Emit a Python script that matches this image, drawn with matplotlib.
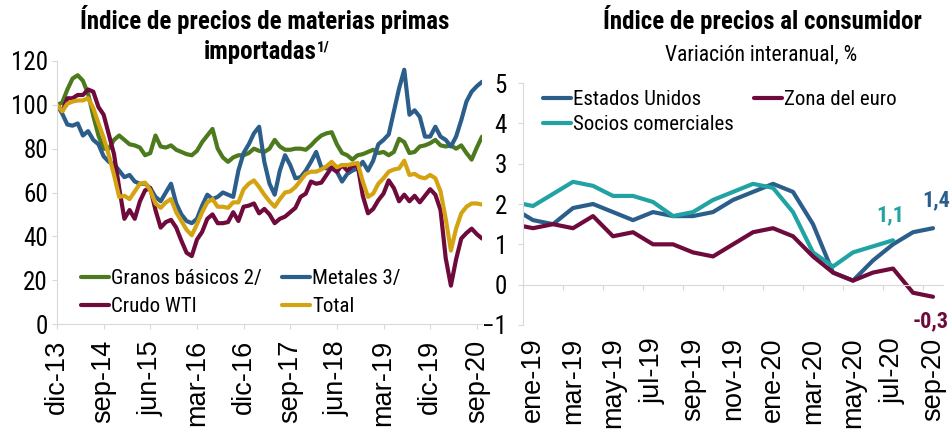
import numpy as np
import matplotlib
matplotlib.use("Agg")
import matplotlib.pyplot as plt

# ======================================================
# Data
# ======================================================

# Left panel: monthly index, dic-13 = 100 (dic-13 ... oct-20)
granos = [100, 101, 107, 112, 113.5, 111, 105, 95, 86, 80,
          80, 84, 86, 84, 82, 81.5, 80.5, 77, 78, 86,
          81, 80.5, 81.5, 79.5, 78.5, 77.5, 77, 79, 83, 86,
          89, 80, 76, 74, 76, 77, 77, 78, 80, 79,
          78.5, 80, 84, 81, 79.5, 79.5, 80, 80, 79.5, 81.5,
          84, 86, 87, 87.5, 82, 78, 77, 75, 77, 77.5,
          78.5, 79.5, 78, 78.5, 77, 78.5, 84.5, 83, 78, 78.5,
          81, 81.5, 82.5, 84, 81.5, 81, 81.5, 80, 81.5, 78,
          75, 80.5, 85.5]

metales = [100, 96, 91, 90.5, 91.5, 86, 88, 84, 82, 76.5,
           74, 73, 70, 67, 68, 65, 64, 64, 62, 58,
           56, 60, 64, 55, 50, 47, 46, 48, 54, 59,
           57, 58, 60, 59, 58, 70, 78, 82, 87, 90,
           74, 64, 59, 70, 77, 72.5, 66.5, 67, 70, 74,
           78.5, 71.5, 71, 71, 69.5, 65, 68.5, 70, 71, 74,
           70, 74.5, 82, 84, 86.5, 97, 107.5, 116, 95.5, 97.5,
           94.5, 85.5, 85.5, 90, 85.5, 84, 81, 85.5, 93, 101.5,
           106, 108.5, 110.5]

crudo = [100, 97, 103, 103, 104.5, 104.5, 107, 106, 99, 95.5,
         86.5, 77.5, 62, 48, 52, 48, 56, 61, 62, 52,
         44, 46.5, 47.5, 44, 38, 32.5, 31, 38.5, 42, 48,
         50, 46, 46, 46.5, 51, 47, 53.5, 54, 55, 50.5,
         52.5, 50, 46, 48, 49, 51, 53, 58, 59.5, 65,
         64, 64.5, 68, 71.5, 69.5, 72.5, 70, 72, 72.5, 58.5,
         50.5, 52.5, 56.5, 59.5, 65.5, 62, 56, 59, 56, 58.5,
         55.5, 58.5, 61.5, 59, 52, 30, 17.5, 29.5, 39, 41.5,
         43.5, 41, 39]

total = [100, 97, 100.5, 101.5, 102, 102, 103, 98.5, 91.5, 85,
         77, 68, 58, 58.5, 57, 60.5, 64, 64.5, 61, 55,
         53, 55.5, 57, 51, 47, 43, 40.5, 45.5, 51, 55.5,
         57, 53.5, 53.5, 53, 55.5, 55.5, 61.5, 64, 65.5, 62.5,
         59, 56, 53.5, 57, 60, 60.5, 62.5, 65.5, 68.5, 69.5,
         69.5, 70.5, 72, 74, 71.5, 72.5, 72.5, 73, 73.5, 65,
         58, 59.5, 64, 66.5, 69.5, 70.5, 71, 74.5, 68, 68.5,
         67, 66.5, 68, 66.5, 60.5, 48, 33.5, 43.5, 50.5, 53.5,
         55, 55, 54.5]

left_tick_labels = ["dic-13", "sep-14", "jun-15", "mar-16", "dic-16",
                    "sep-17", "jun-18", "mar-19", "dic-19", "sep-20"]

# Right panel: CPI y/y %, dic-18 ... sep-20
cpi_months = ["dic-18", "ene-19", "feb-19", "mar-19", "abr-19", "may-19",
              "jun-19", "jul-19", "ago-19", "sep-19", "oct-19", "nov-19",
              "dic-19", "ene-20", "feb-20", "mar-20", "abr-20", "may-20",
              "jun-20", "jul-20", "ago-20", "sep-20"]
eeuu = [1.9, 1.6, 1.5, 1.9, 2.0, 1.8, 1.6, 1.8, 1.7, 1.7, 1.8,
        2.1, 2.3, 2.5, 2.3, 1.5, 0.3, 0.1, 0.6, 1.0, 1.3, 1.4]
socios = [2.05, 1.95, 2.25, 2.55, 2.45, 2.2, 2.2, 2.05, 1.7, 1.8,
          2.1, 2.3, 2.5, 2.4, 1.8, 0.8, 0.45, 0.8, 0.95, 1.1]
euro = [1.5, 1.4, 1.5, 1.4, 1.7, 1.2, 1.3, 1.0, 1.0, 0.8, 0.7,
        1.0, 1.3, 1.4, 1.2, 0.7, 0.3, 0.1, 0.3, 0.4, -0.2, -0.3]

# ======================================================
# Style
# ======================================================

NARROW = ['Roboto Condensed', 'DejaVu Sans']
REGULAR = ['Liberation Sans', 'DejaVu Sans']

GREEN = '#4E7A1E'
BLUE = '#2B5E8B'
MAROON = '#6E0A3C'
GOLD = '#D4A312'
TEAL = '#22A3A3'
GRAY = '#D9D9D9'

W, H = 950, 434

def fx(px):
    return px / W

def fy(py):
    return 1 - py / H

line_kw = dict(lw=3, solid_joinstyle='round', solid_capstyle='round')

TICK_FS = 18
XLAB_FS = 19.5
LEG_FS = 15

fig = plt.figure(figsize=(9.5, 4.34), dpi=100)

# ======================================================
# Left panel
# ======================================================

ax1 = fig.add_axes([fx(57), fy(324), fx(425), 263 / H])

x1 = np.arange(len(total))

l_gr, = ax1.plot(x1, granos, color=GREEN, label='Granos básicos 2/', **line_kw)
l_me, = ax1.plot(x1, metales, color=BLUE, label='Metales 3/', **line_kw)
l_cr, = ax1.plot(x1, crudo, color=MAROON, label='Crudo WTI', **line_kw)
l_to, = ax1.plot(x1, total, color=GOLD, label='Total', **line_kw)

ax1.set_xlim(0, len(total) - 1)
ax1.set_ylim(0, 120)
ax1.set_yticks(range(0, 121, 20))
ax1.set_xticks(np.arange(0, len(total), 9))
ax1.set_xticklabels(left_tick_labels, rotation=90, family=REGULAR, fontsize=XLAB_FS)
for t in ax1.get_yticklabels():
    t.set_family(NARROW)
    t.set_fontsize(TICK_FS)

for s in ['top', 'right']:
    ax1.spines[s].set_visible(False)
for s in ['left', 'bottom']:
    ax1.spines[s].set_color(GRAY)

ax1.tick_params(axis='y', length=3.6, color=GRAY, pad=3)
ax1.tick_params(axis='x', length=3.6, color=GRAY, pad=8)

ax1.legend(handles=[l_gr, l_cr, l_me, l_to], ncol=2, frameon=False,
           loc='upper left', bbox_to_anchor=(fx(81), fy(269)),
           bbox_transform=fig.transFigure, borderpad=0, borderaxespad=0,
           handlelength=1.35, handletextpad=0.1, columnspacing=0.95,
           labelspacing=0.45, prop={'family': NARROW, 'size': LEG_FS})

fig.text(fx(265), fy(20), 'Índice de precios de materias primas',
         ha='center', va='center', fontsize=18, fontweight='bold', family=NARROW)
t2 = fig.text(fx(260), fy(52), 'importadas', ha='center', va='center',
              fontsize=18, fontweight='bold', family=NARROW)
plt.annotate('1/', xy=(1.0, 0.97), xycoords=t2, ha='left', va='top',
             fontsize=11, fontweight='bold', family=NARROW)

# ======================================================
# Right panel
# ======================================================

ax2 = fig.add_axes([fx(523), fy(325), fx(420), 242 / H])

x2 = np.arange(len(cpi_months))

l_us, = ax2.plot(x2, eeuu, color=BLUE, label='Estados Unidos', **line_kw)
l_so, = ax2.plot(x2[:len(socios)], socios, color=TEAL,
                 label='Socios comerciales', **line_kw)
l_eu, = ax2.plot(x2, euro, color=MAROON, label='Zona del euro', **line_kw)

ax2.set_xlim(0.5, len(cpi_months) - 0.5)
ax2.set_ylim(-1, 5)
ax2.set_yticks(range(-1, 6))
for t in ax2.get_yticklabels():
    t.set_family(NARROW)
    t.set_fontsize(TICK_FS)

for s in ['top', 'right']:
    ax2.spines[s].set_visible(False)
ax2.spines['left'].set_color(GRAY)
ax2.spines['bottom'].set_color(GRAY)
ax2.spines['bottom'].set_position(('data', 0))

ax2.set_xticks(np.arange(0.5, len(cpi_months) - 1, 2))
ax2.tick_params(axis='x', labelbottom=False, length=3.6, color=GRAY)
ax2.tick_params(axis='y', length=3.6, color=GRAY, pad=8)

sec = ax2.secondary_xaxis('bottom')
sec.set_xticks(x2[1::2], labels=cpi_months[1::2])
sec.tick_params(length=0, pad=9)
sec.spines['bottom'].set_visible(False)
for t in sec.get_xticklabels():
    t.set_rotation(90)
    t.set_family(REGULAR)
    t.set_fontsize(XLAB_FS)

ax2.legend(handles=[l_us, l_so, l_eu], ncol=2, frameon=False,
           loc='upper left', bbox_to_anchor=(fx(543), fy(90)),
           bbox_transform=fig.transFigure, borderpad=0, borderaxespad=0,
           handlelength=1.35, handletextpad=0.1, columnspacing=0.95,
           labelspacing=0.3, prop={'family': NARROW, 'size': LEG_FS})

ann_kw = dict(textcoords='offset points', ha='center', va='center',
              fontsize=16, fontweight='bold', family=NARROW)
ax2.annotate('1,4', xy=(x2[-1], eeuu[-1]), xytext=(2, 20), color=BLUE, **ann_kw)
ax2.annotate('1,1', xy=(x2[len(socios) - 1], socios[-1]), xytext=(-2, 18),
             color=TEAL, **ann_kw)
ax2.annotate('-0,3', xy=(x2[-1], euro[-1]), xytext=(-2, -18), color=MAROON, **ann_kw)

fig.text(fx(762), fy(20), 'Índice de precios al consumidor',
         ha='center', va='center', fontsize=18, fontweight='bold', family=NARROW)
fig.text(fx(761), fy(55), 'Variación interanual, %',
         ha='center', va='center', fontsize=15.5, family=NARROW)

fig.savefig('out.png', dpi=100)
